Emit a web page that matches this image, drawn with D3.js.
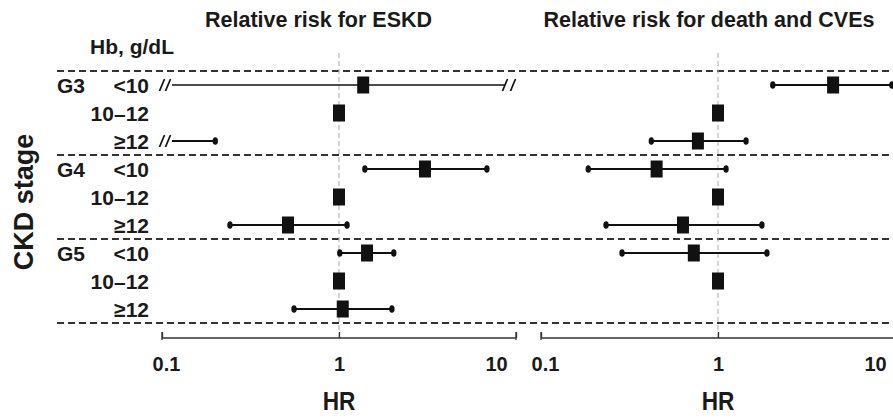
<!DOCTYPE html>
<html>
<head>
<meta charset="utf-8">
<script src="https://cdn.jsdelivr.net/npm/d3@7"></script>
<style>
  body { margin: 0; background: #fff; }
  text { font-family: "Liberation Sans", Arial, sans-serif; font-weight: bold; fill: #1a1a1a; }
</style>
</head>
<body>
<svg width="893" height="419"></svg>
<script>
// chart data
const groups = ["G3", "G4", "G5"];
const hbLevels = ["<10", "10–12", "≥12"];
const tickValues = [0.1, 1, 10];
const tickLabels = ["0.1", "1", "10"];
const panelTitles = ["Relative risk for ESKD", "Relative risk for death and CVEs"];

// "<0.1" / ">10" = interval runs past the axis (drawn with a break), null = nothing drawn
const eskdHR = [1.37, 1.0, null, 3.06, 1.0, 0.515, 1.44, 1.0, 1.05];
const eskdLo = ["<0.1", null, "<0.1", 1.40, null, 0.242, 1.01, null, 0.557];
const eskdHi = [">10", null, 0.20, 6.85, null, 1.11, 2.04, null, 1.99];

const deathHR = [4.47, 1.0, 0.77, 0.45, 1.0, 0.634, 0.73, 1.0, null];
const deathLo = [2.04, null, 0.42, 0.185, null, 0.233, 0.287, null, null];
const deathHi = [9.6, null, 1.44, 1.11, null, 1.77, 1.89, null, null];

const svg = d3.select("svg");
const ink = "#111";

let rowIds = [];
groups.forEach(g => hbLevels.forEach(h => rowIds.push(g + " " + h)));

let y = d3.scaleBand().domain(rowIds).range([71, 323]);
const rowY = (i) => y(rowIds[i]) + y.bandwidth() / 2;
const axisY = 338;

// left labels
svg.append("text")
    .attr("transform", "translate(33," + 202 + ") rotate(-90)")
    .attr("text-anchor", "middle")
    .style("font-size", "27px")
    .text("CKD stage");

svg.append("text")
    .attr("x", 90).attr("y", 54)
    .style("font-size", "21px")
    .text("Hb, g/dL");

groups.forEach((g, gi) => {
    svg.append("text")
        .attr("x", 57).attr("y", rowY(gi * 3) + 8)
        .style("font-size", "21px")
        .text(g);
});

rowIds.forEach((id, i) => {
    svg.append("text")
        .attr("x", 149).attr("y", rowY(i) + 8)
        .attr("text-anchor", "end")
        .style("font-size", "21px")
        .text(hbLevels[i % 3]);
});

// group separators
let seps = [0, 3, 6].map(i => y(rowIds[i])).concat([y(rowIds[8]) + y.bandwidth()]);
svg.selectAll("line.sep")
    .data(seps)
    .enter()
    .append("line")
    .attr("class", "sep")
    .attr("x1", 57).attr("x2", 893)
    .attr("y1", d => d).attr("y2", d => d)
    .attr("stroke", "#333")
    .attr("stroke-width", 2)
    .attr("stroke-dasharray", "7,4");

function drawPanel(range, title, titleX, anchor, hr, lo, hi) {
    let x = d3.scaleLog().domain([0.1, 10]).range(range);
    let g = svg.append("g");

    g.append("text")
        .attr("x", titleX).attr("y", 27)
        .attr("text-anchor", anchor)
        .style("font-size", "21.5px")
        .text(title);

    // reference line at HR = 1
    g.append("line")
        .attr("x1", x(1)).attr("x2", x(1))
        .attr("y1", 53).attr("y2", axisY)
        .attr("stroke", "#aaa")
        .attr("stroke-width", 1)
        .attr("stroke-dasharray", "5,3");

    // axis
    let axis = d3.axisBottom(x)
        .tickValues(tickValues)
        .tickFormat((d, i) => tickLabels[i])
        .tickSizeInner(-6)
        .tickSizeOuter(-6)
        .tickPadding(19);
    let ax = g.append("g")
        .attr("transform", "translate(0," + axisY + ")")
        .call(axis);
    ax.selectAll("path, line").attr("stroke", "#333").attr("stroke-width", 1.3);
    ax.select(".domain").attr("d", "M" + range[0] + ",-6V2V0H" + range[1] + "V-6V2");
    ax.selectAll("text")
        .attr("font-family", null)
        .attr("font-size", null)
        .style("font-size", "20px")
        .attr("fill", "#1a1a1a")
        .attr("x", (d) => d === 0.1 ? 4 : (d === 10 ? -20 : 0));

    g.append("text")
        .attr("x", x(1)).attr("y", 410)
        .attr("text-anchor", "middle")
        .style("font-size", "26px")
        .attr("transform", "translate(" + x(1) + ",0) scale(0.87,1) translate(" + (-x(1)) + ",0)")
        .text("HR");

    hr.forEach((v, i) => {
        let cy = rowY(i);
        let l = lo[i], h = hi[i];
        if (l !== null && h !== null) {
            let x1 = l === "<0.1" ? x(0.1) + 10 : x(l);
            let x2 = h === ">10" ? x(10) - 11 : x(h);
            let thin = l === "<0.1" && h === ">10";
            g.append("line")
                .attr("x1", x1).attr("x2", x2)
                .attr("y1", cy).attr("y2", cy)
                .attr("stroke", ink)
                .attr("stroke-width", thin ? 1.5 : 2);
            [[l, "<0.1"], [h, ">10"]].forEach(([val, off]) => {
                if (val === off) {
                    let bx = off === "<0.1" ? [x(0.1), x(0.1) + 6] : [x(10) - 11, x(10) - 3];
                    bx.forEach(b => {
                        g.append("line")
                            .attr("x1", b - 2.5).attr("y1", cy + 6)
                            .attr("x2", b + 2.5).attr("y2", cy - 6)
                            .attr("stroke", ink).attr("stroke-width", 1.7);
                    });
                } else {
                    g.append("ellipse")
                        .attr("cx", x(val)).attr("cy", cy)
                        .attr("rx", 2.7).attr("ry", 3.8)
                        .attr("fill", ink);
                }
            });
        }
        if (v !== null) {
            g.append("rect")
                .attr("x", x(v) - 6).attr("y", cy - 8.5)
                .attr("width", 12).attr("height", 17)
                .attr("fill", ink);
        }
    });
}

drawPanel([162, 516], panelTitles[0], 205, "start", eskdHR, eskdLo, eskdHi);
drawPanel([541, 895], panelTitles[1], 709, "middle", deathHR, deathLo, deathHi);
</script>
</body>
</html>
